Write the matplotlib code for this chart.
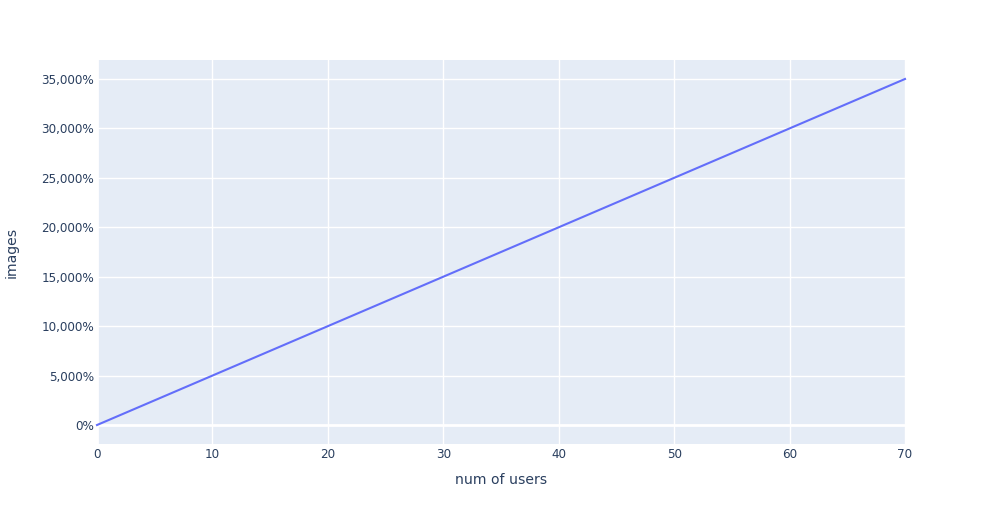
import matplotlib
matplotlib.use("Agg")
import matplotlib.pyplot as plt
from matplotlib.ticker import FuncFormatter, MultipleLocator

num_users = [0, 10, 20, 30, 40, 50, 60, 70]
images = [0, 50, 100, 150, 200, 250, 300, 350]

plt.rcParams['font.family'] = ['DejaVu Sans']
txt = '#2a3f5f'

fig = plt.figure(figsize=(9.85, 5.25), dpi=100)
ax = fig.add_axes([97/985, 81/525, 808/985, 384/525])
ax.set_facecolor('#e5ecf6')
ax.plot(num_users, images, color='#636efa', lw=1.5, zorder=3, clip_on=False)
ax.set_xlim(0, 70)
ax.set_ylim(-19.2, 369.2)
ax.xaxis.set_major_locator(MultipleLocator(10))
ax.yaxis.set_major_locator(MultipleLocator(50))
ax.yaxis.set_major_formatter(FuncFormatter(lambda v, p: f"{v*100:,.0f}%"))
ax.grid(True, color='white', lw=1, zorder=0)
ax.axhline(0, color='white', lw=2, zorder=1)
ax.axvline(0, color='white', lw=2, zorder=1)
for s in ax.spines.values():
    s.set_visible(False)
ax.tick_params(axis='y', length=0, labelsize=8.64, labelcolor=txt, pad=2)
ax.tick_params(axis='x', length=0, labelsize=8.64, labelcolor=txt, pad=3)
ax.set_xlabel('num of users', fontsize=10.08, color=txt)
ax.set_ylabel('images', fontsize=10.08, color=txt)
ax.yaxis.set_label_coords(-78/808, 0.5)
ax.xaxis.set_label_coords(0.5, -29/384)
fig.savefig('out.png', dpi=100)
